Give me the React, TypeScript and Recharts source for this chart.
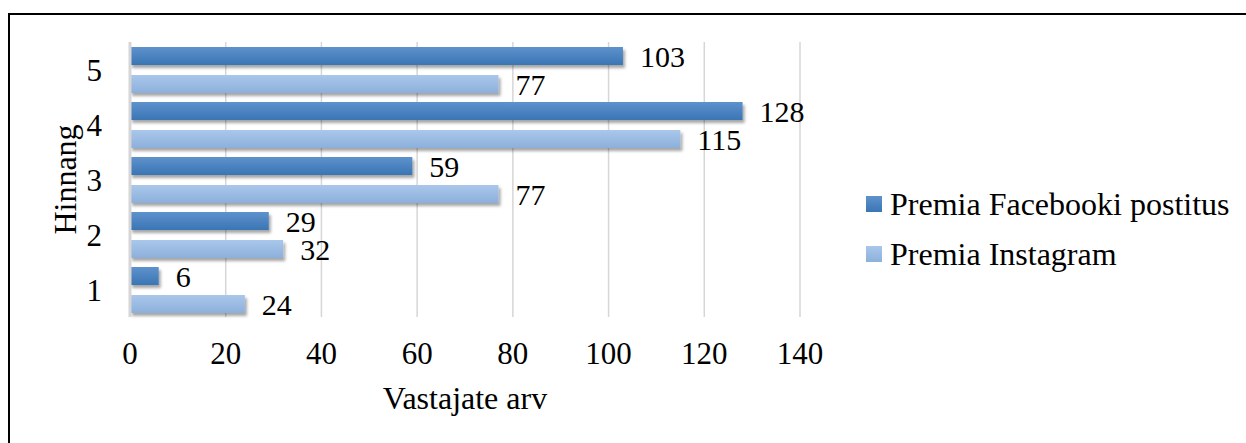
import React from 'react';
import { BarChart, Bar, XAxis, YAxis, CartesianGrid, LabelList, Legend, Label } from 'recharts';

const categories = ['1', '2', '3', '4', '5'];
const facebookValues = [6, 29, 59, 128, 103];
const instagramValues = [24, 32, 77, 115, 77];
const xTicks = [0, 20, 40, 60, 80, 100, 120, 140];
const seriesNames = ['Premia Facebooki postitus', 'Premia Instagram'];
const xTitle = 'Vastajate arv';
const yTitle = 'Hinnang';

const data = categories.map((c, i) => ({ rating: c, fb: facebookValues[i], ig: instagramValues[i] }));

const FONT = "'Liberation Serif', 'Times New Roman', serif";

const legendSwatches = [
  'linear-gradient(#5e92cc, #3a75b4)',
  'linear-gradient(#aac7eb, #8cb0db)',
];

const renderLegend = () => (
  <div style={{ fontFamily: FONT, fontSize: 32, color: '#000' }}>
    {seriesNames.map((n, i) => (
      <div key={n} style={{ display: 'flex', alignItems: 'center', height: 50, lineHeight: '50px', whiteSpace: 'nowrap' }}>
        <span style={{ display: 'inline-block', width: 16, height: 16, marginRight: 8, background: legendSwatches[i] }} />
        <span>{n}</span>
      </div>
    ))}
  </div>
);

const shadowBar = (p: any) => (
  <rect x={p.x} y={p.y} width={p.width} height={p.height} fill={p.fill} filter="url(#barShadow)" />
);

export default function App() {
  return (
    <div style={{ position: 'absolute', left: 0, top: 0, width: 1246, height: 443, overflow: 'hidden', background: '#fff' }}>
      <div style={{ position: 'absolute', left: 8, top: 13, width: 1300, height: 500, border: '2px solid #000', boxSizing: 'border-box' }} />
      <div style={{ position: 'absolute', left: 0, top: 0 }}>
        <BarChart
          width={1246}
          height={443}
          data={data}
          layout="vertical"
          margin={{ top: 42, right: 446, bottom: 26, left: 0 }}
          barSize={18}
          barGap={10}
        >
          <defs>
            <linearGradient id="gFb" x1="0" y1="0" x2="0" y2="1">
              <stop offset="0" stopColor="#5e92cc" />
              <stop offset="1" stopColor="#3a75b4" />
            </linearGradient>
            <linearGradient id="gIg" x1="0" y1="0" x2="0" y2="1">
              <stop offset="0" stopColor="#aac7eb" />
              <stop offset="1" stopColor="#8cb0db" />
            </linearGradient>
            <filter id="barShadow" x="-20%" y="-30%" width="150%" height="200%">
              <feDropShadow dx="2" dy="3" stdDeviation="1.5" floodColor="#000" floodOpacity="0.35" />
            </filter>
          </defs>
          <CartesianGrid horizontal={false} stroke="#d6d6d6" strokeWidth={1.5} />
          <XAxis
            type="number"
            domain={[0, 140]}
            ticks={xTicks}
            interval={0}
            tickLine={false}
            axisLine={false}
            tickSize={0}
            tickMargin={25}
            height={100}
            tick={{ fill: '#000', fontSize: 31, fontFamily: FONT }}
          >
            <Label value={xTitle} position="insideBottom" offset={8} fill="#000" style={{ fontSize: 32, fontFamily: FONT, fill: '#000' }} />
          </XAxis>
          <YAxis
            type="category"
            dataKey="rating"
            reversed
            width={130}
            tickLine={false}
            axisLine={{ stroke: '#d6d6d6', strokeWidth: 3 }}
            tickSize={0}
            tickMargin={28}
            tick={{ fill: '#000', fontSize: 31, fontFamily: FONT }}
          >
            <Label value={yTitle} angle={-90} position="center" fill="#000" style={{ fontSize: 32, fontFamily: FONT, fill: '#000' }} />
          </YAxis>
          <Legend layout="vertical" align="center" verticalAlign="middle" content={renderLegend}
            wrapperStyle={{ left: 866, top: 179, width: 380, height: 100 }} />
          <Bar dataKey="fb" name={seriesNames[0]} fill="url(#gFb)" shape={shadowBar} isAnimationActive={false}>
            <LabelList dataKey="fb" position="right" offset={17} fill="#000" style={{ fontSize: 30, fontFamily: FONT, fill: '#000' }} />
          </Bar>
          <Bar dataKey="ig" name={seriesNames[1]} fill="url(#gIg)" shape={shadowBar} isAnimationActive={false}>
            <LabelList dataKey="ig" position="right" offset={17} fill="#000" style={{ fontSize: 30, fontFamily: FONT, fill: '#000' }} />
          </Bar>
        </BarChart>
      </div>
    </div>
  );
}
